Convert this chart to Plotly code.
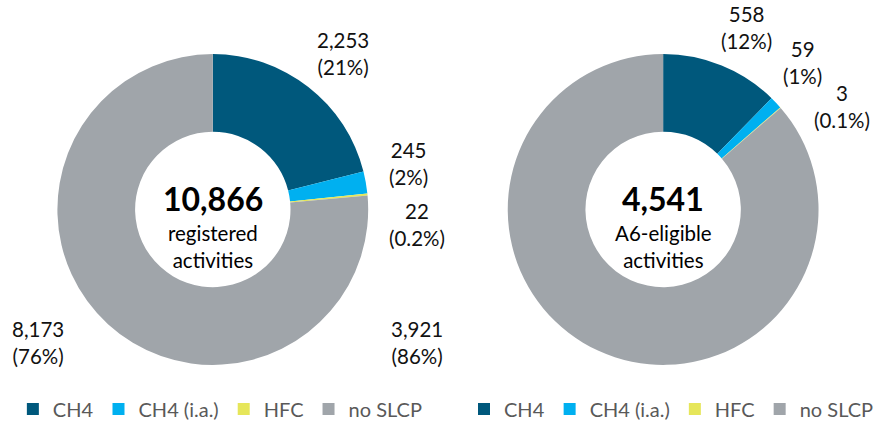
import plotly.graph_objects as go

W, H = 879, 429

categories = ["CH4", "CH4 (i.a.)", "HFC", "no SLCP"]
colors = ["#00587C", "#00B0F0", "#E6E65A", "#A0A5AA"]

left_values = [2253, 245, 22, 8173]
left_pct = ["21%", "2%", "0.2%", "76%"]
left_total = "10,866"
left_caption = "registered<br>activities"

right_values = [558, 59, 3, 3921]
right_pct = ["12%", "1%", "0.1%", "86%"]
right_total = "4,541"
right_caption = "A6-eligible<br>activities"

# label block centres (pixels)
left_label_pos = [(347, 54), (413, 164), (421, 225), (38, 343)]
right_label_pos = [(754, 28), (811, 63), (851, 107), (421, 343)]

FONT = "Lato"


def px_x(x):
    return x / W


def px_y(y):
    return 1 - y / H


fig = go.Figure()

# zero-width space keeps the second pie's legend entries separate
pies = [
    (left_values, (215, 210), "legend", categories),
    (right_values, (670, 210), "legend2", [c + "\u200b" for c in categories]),
]
R = 157
for vals, (cx, cy), lg, labs in pies:
    fig.add_trace(go.Pie(
        labels=labs, values=vals, hole=0.5, sort=False,
        direction="clockwise", rotation=0,
        marker=dict(colors=colors, line=dict(width=0)),
        textinfo="none", hoverinfo="label+value+percent",
        domain=dict(x=[px_x(cx - R), px_x(cx + R)], y=[px_y(cy + R), px_y(cy - R)]),
        legend=lg, showlegend=True,
    ))

annotations = []
for vals, pcts, poss in [(left_values, left_pct, left_label_pos),
                          (right_values, right_pct, right_label_pos)]:
    for v, p, (x, y) in zip(vals, pcts, poss):
        annotations.append(dict(
            x=px_x(x), y=px_y(y), xref="paper", yref="paper",
            text=f"{v:,}<br>({p})", showarrow=False,
            font=dict(family=FONT, size=20.5, color="#111111"),
            xanchor="center", yanchor="middle", align="center",
        ))

for total, cap, cx in [(left_total, left_caption, 215), (right_total, right_caption, 670)]:
    annotations.append(dict(
        x=px_x(cx), y=px_y(199), xref="paper", yref="paper",
        text=f"<b>{total}</b>", showarrow=False,
        font=dict(family=FONT, size=32, color="#000000"),
        xanchor="center", yanchor="middle",
    ))
    annotations.append(dict(
        x=px_x(cx), y=px_y(247), xref="paper", yref="paper",
        text=cap, showarrow=False,
        font=dict(family=FONT, size=20.5, color="#000000"),
        xanchor="center", yanchor="middle", align="center",
    ))

legend_style = dict(
    orientation="h", yanchor="middle", xanchor="left",
    font=dict(family=FONT, size=20, color="#595959"),
    bgcolor="rgba(0,0,0,0)", traceorder="normal",
)

fig.update_layout(
    width=W, height=H,
    margin=dict(l=0, r=0, t=0, b=0),
    paper_bgcolor="white", plot_bgcolor="white",
    font=dict(family=FONT),
    annotations=annotations,
    legend=dict(x=px_x(13), y=px_y(410), **legend_style),
    legend2=dict(x=px_x(469), y=px_y(410), **legend_style),
)

fig.write_html("out.html", config={"displayModeBar": False},
               post_script="document.body.style.margin='0';")
